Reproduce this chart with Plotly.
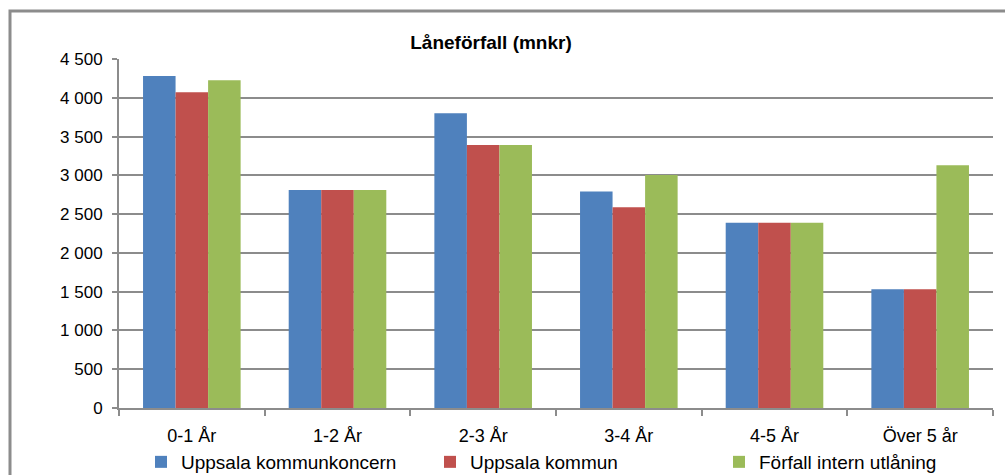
import plotly.graph_objects as go

categories = ["0-1 År", "1-2 År", "2-3 År", "3-4 År", "4-5 År", "Över 5 år"]
koncern = [4280, 2810, 3800, 2790, 2390, 1530]
kommun = [4070, 2810, 3390, 2590, 2390, 1530]
intern = [4225, 2810, 3390, 3005, 2390, 3130]
series_names = ["Uppsala kommunkoncern", "Uppsala kommun", "Förfall intern utlåning"]
colors = ["#4F81BD", "#C0504D", "#9BBB59"]

FONT = "Liberation Sans, Arial, sans-serif"

fig = go.Figure()
for name, vals, c in zip(series_names, [koncern, kommun, intern], colors):
    fig.add_trace(go.Bar(x=categories, y=vals, name=name, marker_color=c,
                         marker_line_width=0))

W, H = 1005, 475
L, R, T, B = 119, 12, 59, 67
pw, ph = W - L - R, H - T - B

def px2x(p):
    return (p - L) / pw

def px2y(p):
    return (H - B - p) / ph

fig.update_layout(
    width=W, height=H,
    margin=dict(l=L, r=R, t=T, b=B, autoexpand=False),
    paper_bgcolor="white", plot_bgcolor="white",
    barmode="group", bargap=0.33, bargroupgap=0,
    separators=", ",
    font=dict(family=FONT, size=17, color="#000000"),
    title=dict(text="<b>Låneförfall (mnkr)</b>", x=491 / W, xanchor="center",
               y=1 - 42 / H, yanchor="middle", font=dict(family=FONT, size=19)),
    xaxis=dict(showline=True, linecolor="#8c8c8c", linewidth=2,
               ticks="outside", ticklen=6, tickcolor="#8c8c8c", tickwidth=2,
               tickson="boundaries", showgrid=False, fixedrange=True,
               ticklabelstandoff=10, tickfont=dict(size=18)),
    yaxis=dict(range=[0, 4500], dtick=500, tickformat=",d",
               showline=True, linecolor="#8c8c8c", linewidth=2,
               ticks="outside", ticklen=5, tickcolor="#8c8c8c", tickwidth=2,
               showgrid=True, gridcolor="#8c8c8c", gridwidth=2,
               zeroline=False, ticklabelstandoff=6, tickfont=dict(size=17)),
    legend=dict(orientation="h", x=px2x(141), xanchor="left",
                y=px2y(462), yanchor="middle",
                entrywidth=244, entrywidthmode="pixels",
                itemwidth=30, font=dict(family=FONT, size=19),
                bgcolor="rgba(0,0,0,0)", traceorder="normal"),
    showlegend=True,
)

fig.add_shape(type="path", xref="paper", yref="paper",
              path=f"M {px2x(10)},{px2y(500)} L {px2x(10)},{px2y(11)} L {px2x(1015)},{px2y(11)}",
              line=dict(color="#8c8c8c", width=3))

fig.write_html("out.html", config={"displayModeBar": False},
               post_script="document.body.style.margin='0';document.body.style.overflow='hidden';")
